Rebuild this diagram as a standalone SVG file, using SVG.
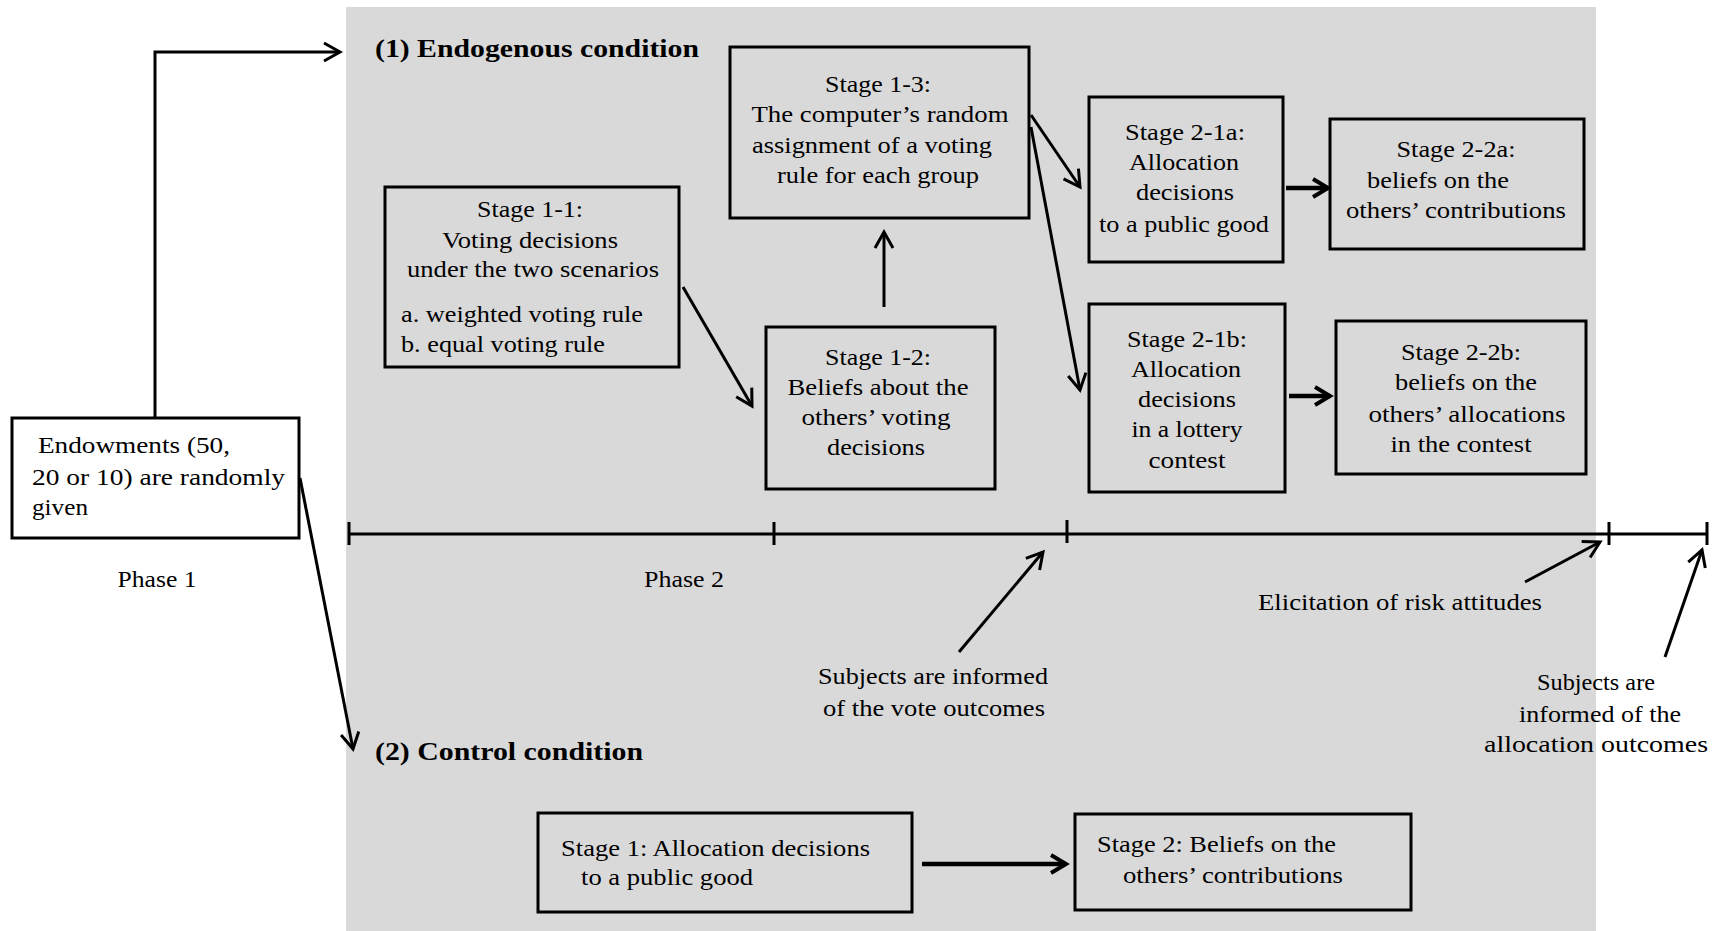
<svg xmlns="http://www.w3.org/2000/svg" width="1723" height="931" viewBox="0 0 1723 931">
<style>
.bg{fill:#ffffff}
.panel{fill:#d9d9d9}
.box{fill:none;stroke:#000;stroke-width:3}
.wbox{fill:#ffffff;stroke:#000;stroke-width:3}
.ln{fill:none;stroke:#000;stroke-width:3}
.thick{fill:none;stroke:#000;stroke-width:4.5}
.t{font-family:"Liberation Serif","Times New Roman",serif;font-size:23px;fill:#000}
.m{text-anchor:middle}
.h{font-family:"Liberation Serif","Times New Roman",serif;font-size:26px;font-weight:bold;fill:#000}
</style>
<defs>
<marker id="ah" viewBox="-20 -12 24 24" refX="0" refY="0" markerWidth="24" markerHeight="24" markerUnits="userSpaceOnUse" orient="auto">
<path d="M-16,-9 L0,0 L-16,9" fill="none" stroke="#000" stroke-width="3"/>
</marker>
<marker id="ahb" viewBox="-20 -12 24 24" refX="0" refY="0" markerWidth="24" markerHeight="24" markerUnits="userSpaceOnUse" orient="auto">
<path d="M-15,-9 L0,0 L-15,9" fill="none" stroke="#000" stroke-width="4"/>
</marker>
</defs>
<rect class="bg" x="0" y="0" width="1723" height="931"/>
<rect class="panel" x="346" y="7" width="1250" height="924"/>

<g id="titles">
<text class="h" x="375" y="57" textLength="324" lengthAdjust="spacingAndGlyphs">(1) Endogenous condition</text>
<text class="h" x="375" y="760" textLength="268" lengthAdjust="spacingAndGlyphs">(2) Control condition</text>
</g>

<g id="timeline">
<path class="ln" d="M349,534 H1708 M349,522 V545 M774,522 V545 M1067,520 V543 M1609,522 V545 M1707,522 V545"/>
<text class="t m" x="157" y="587" textLength="79" lengthAdjust="spacingAndGlyphs">Phase 1</text>
<text class="t m" x="684" y="587" textLength="80" lengthAdjust="spacingAndGlyphs">Phase 2</text>
</g>

<g id="connectors">
<path class="ln" d="M155,418 V52 H340" marker-end="url(#ah)"/>
<path class="ln" d="M300,478 L353,749" marker-end="url(#ah)"/>
<path class="ln" d="M683,287 L752,406" marker-end="url(#ah)"/>
<path class="ln" d="M884,307 L884,232" marker-end="url(#ah)"/>
<path class="ln" d="M1031,115 L1080,187" marker-end="url(#ah)"/>
<path class="ln" d="M1031,127 L1080,390" marker-end="url(#ah)"/>
<path class="thick" d="M1286,188 L1328,188" marker-end="url(#ahb)"/>
<path class="thick" d="M1289,396 L1330,396" marker-end="url(#ahb)"/>
<path class="thick" d="M922,864 L1066,864" marker-end="url(#ahb)"/>
<path class="ln" d="M959,652 L1043,552" marker-end="url(#ah)"/>
<path class="ln" d="M1525,582 L1600,542" marker-end="url(#ah)"/>
<path class="ln" d="M1665,657 L1702,550" marker-end="url(#ah)"/>
</g>

<g id="endowments">
<rect class="wbox" x="12" y="418" width="287" height="120"/>
<text class="t" x="38" y="453" textLength="192" lengthAdjust="spacingAndGlyphs">Endowments (50,</text>
<text class="t" x="32" y="485" textLength="253" lengthAdjust="spacingAndGlyphs">20 or 10) are  randomly</text>
<text class="t" x="32" y="515" textLength="56" lengthAdjust="spacingAndGlyphs">given</text>
</g>

<g id="stage1-1">
<rect class="box" x="385" y="187" width="294" height="180"/>
<text class="t m" x="530" y="217" textLength="106" lengthAdjust="spacingAndGlyphs">Stage 1-1:</text>
<text class="t m" x="530" y="248" textLength="176" lengthAdjust="spacingAndGlyphs">Voting decisions</text>
<text class="t m" x="533" y="277" textLength="252" lengthAdjust="spacingAndGlyphs">under the two scenarios</text>
<text class="t" x="401" y="322" textLength="242" lengthAdjust="spacingAndGlyphs">a. weighted voting rule</text>
<text class="t" x="401" y="352" textLength="204" lengthAdjust="spacingAndGlyphs">b. equal voting rule</text>
</g>

<g id="stage1-3">
<rect class="box" x="730" y="47" width="299" height="171"/>
<text class="t m" x="878" y="92" textLength="106" lengthAdjust="spacingAndGlyphs">Stage 1-3:</text>
<text class="t m" x="880" y="122" textLength="257" lengthAdjust="spacingAndGlyphs">The computer’s random</text>
<text class="t m" x="872" y="153" textLength="240" lengthAdjust="spacingAndGlyphs">assignment of a voting</text>
<text class="t m" x="878" y="183" textLength="202" lengthAdjust="spacingAndGlyphs">rule for each group</text>
</g>

<g id="stage1-2">
<rect class="box" x="766" y="327" width="229" height="162"/>
<text class="t m" x="878" y="365" textLength="106" lengthAdjust="spacingAndGlyphs">Stage 1-2:</text>
<text class="t m" x="878" y="395" textLength="181" lengthAdjust="spacingAndGlyphs">Beliefs about the</text>
<text class="t m" x="876" y="425" textLength="149" lengthAdjust="spacingAndGlyphs">others’ voting</text>
<text class="t m" x="876" y="455" textLength="98" lengthAdjust="spacingAndGlyphs">decisions</text>
</g>

<g id="stage2-1a">
<rect class="box" x="1089" y="97" width="194" height="165"/>
<text class="t m" x="1185" y="140" textLength="120" lengthAdjust="spacingAndGlyphs">Stage 2-1a:</text>
<text class="t m" x="1184" y="170" textLength="110" lengthAdjust="spacingAndGlyphs">Allocation</text>
<text class="t m" x="1185" y="200" textLength="98" lengthAdjust="spacingAndGlyphs">decisions</text>
<text class="t m" x="1184" y="232" textLength="170" lengthAdjust="spacingAndGlyphs">to a public good</text>
</g>

<g id="stage2-2a">
<rect class="box" x="1330" y="119" width="254" height="130"/>
<text class="t m" x="1456" y="157" textLength="119" lengthAdjust="spacingAndGlyphs">Stage 2-2a:</text>
<text class="t m" x="1438" y="188" textLength="142" lengthAdjust="spacingAndGlyphs">beliefs on the</text>
<text class="t m" x="1456" y="218" textLength="220" lengthAdjust="spacingAndGlyphs">others’ contributions</text>
</g>

<g id="stage2-1b">
<rect class="box" x="1089" y="304" width="196" height="188"/>
<text class="t m" x="1187" y="347" textLength="120" lengthAdjust="spacingAndGlyphs">Stage 2-1b:</text>
<text class="t m" x="1186" y="377" textLength="110" lengthAdjust="spacingAndGlyphs">Allocation</text>
<text class="t m" x="1187" y="407" textLength="98" lengthAdjust="spacingAndGlyphs">decisions</text>
<text class="t m" x="1187" y="437" textLength="111" lengthAdjust="spacingAndGlyphs">in a lottery</text>
<text class="t m" x="1187" y="468" textLength="77" lengthAdjust="spacingAndGlyphs">contest</text>
</g>

<g id="stage2-2b">
<rect class="box" x="1336" y="321" width="250" height="153"/>
<text class="t m" x="1461" y="360" textLength="120" lengthAdjust="spacingAndGlyphs">Stage 2-2b:</text>
<text class="t m" x="1466" y="390" textLength="142" lengthAdjust="spacingAndGlyphs">beliefs on the</text>
<text class="t m" x="1467" y="422" textLength="197" lengthAdjust="spacingAndGlyphs">others’ allocations</text>
<text class="t m" x="1461" y="452" textLength="141" lengthAdjust="spacingAndGlyphs">in the contest</text>
</g>

<g id="control-stage1">
<rect class="box" x="538" y="813" width="374" height="99"/>
<text class="t" x="561" y="856" textLength="309" lengthAdjust="spacingAndGlyphs">Stage 1: Allocation decisions</text>
<text class="t" x="581" y="885" textLength="172" lengthAdjust="spacingAndGlyphs">to a public good</text>
</g>

<g id="control-stage2">
<rect class="box" x="1075" y="814" width="336" height="96"/>
<text class="t" x="1097" y="852" textLength="239" lengthAdjust="spacingAndGlyphs">Stage 2: Beliefs on the</text>
<text class="t" x="1123" y="883" textLength="220" lengthAdjust="spacingAndGlyphs">others’ contributions</text>
</g>

<g id="note-vote">
<text class="t m" x="933" y="684" textLength="230" lengthAdjust="spacingAndGlyphs">Subjects are informed</text>
<text class="t m" x="934" y="716" textLength="222" lengthAdjust="spacingAndGlyphs">of the vote outcomes</text>
</g>

<g id="note-risk">
<text class="t" x="1258" y="610" textLength="284" lengthAdjust="spacingAndGlyphs">Elicitation of risk  attitudes</text>
</g>

<g id="note-allocation">
<text class="t m" x="1596" y="690" textLength="118" lengthAdjust="spacingAndGlyphs">Subjects are</text>
<text class="t m" x="1600" y="722" textLength="162" lengthAdjust="spacingAndGlyphs">informed of the</text>
<text class="t m" x="1596" y="752" textLength="224" lengthAdjust="spacingAndGlyphs">allocation outcomes</text>
</g>
</svg>
